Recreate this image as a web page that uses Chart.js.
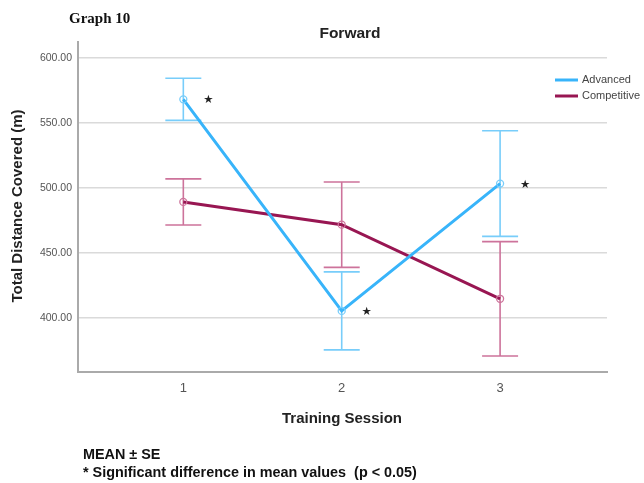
<!DOCTYPE html>
<html>
<head>
<meta charset="utf-8">
<script src="https://cdn.jsdelivr.net/npm/chart.js@4.4.1/dist/chart.umd.min.js"></script>
<style>
  html, body { margin: 0; padding: 0; background: #ffffff; }
  #wrap { width: 644px; height: 483px; position: relative; }
</style>
</head>
<body>
<div id="wrap"><canvas id="c" width="644" height="483"></canvas></div>
<script>
// Training sessions on the x axis
const sessions = [1, 2, 3];
// Mean total distance covered (m) per group
const advancedMean = [568.2, 405.5, 503.4];
const competitiveMean = [489.3, 471.8, 414.8];
// Standard error of the mean per group
const advancedSE = [16.2, 30.0, 40.6];
const competitiveSE = [17.7, 32.8, 44.0];
// Sessions where the group difference is significant (marked with a star)
const significant = [true, true, true];
// Y axis tick values
const yTicks = [400, 450, 500, 550, 600];

const blue = 'rgb(56,180,250)';
const blueBar = 'rgb(120,205,250)';
const maroon = 'rgb(152,22,82)';
const maroonBar = 'rgb(205,115,155)';

const toPoints = (vals) => sessions.map((s, i) => ({ x: s, y: vals[i] }));

// Error bars (mean ± SE) with caps
const errorBars = {
  id: 'errorBars',
  beforeDatasetsDraw(chart) {
    const { ctx, scales: { x, y } } = chart;
    chart.data.datasets.forEach((ds) => {
      ctx.save();
      ctx.strokeStyle = ds.barColor;
      ctx.lineWidth = 1.6;
      ds.data.forEach((p, i) => {
        const px = x.getPixelForValue(p.x);
        const hi = y.getPixelForValue(p.y + ds.se[i]);
        const lo = y.getPixelForValue(p.y - ds.se[i]);
        ctx.beginPath();
        ctx.moveTo(px, hi); ctx.lineTo(px, lo);
        ctx.moveTo(px - 18, hi); ctx.lineTo(px + 18, hi);
        ctx.moveTo(px - 18, lo); ctx.lineTo(px + 18, lo);
        ctx.stroke();
      });
      ctx.restore();
    });
  }
};

// Titles, legend, significance stars and footnotes
const annotations = {
  id: 'annotations',
  afterDraw(chart) {
    const { ctx, scales: { x, y } } = chart;
    ctx.save();
    ctx.fillStyle = '#111';
    ctx.textBaseline = 'middle';

    ctx.font = 'bold 15px "Liberation Serif", "DejaVu Serif", serif';
    ctx.textAlign = 'left';
    ctx.fillText('Graph 10', 69, 19);

    ctx.fillStyle = '#222';
    ctx.font = 'bold 15.5px "Liberation Sans", Arial, sans-serif';
    ctx.textAlign = 'center';
    ctx.fillText('Forward', 350, 34);

    ctx.font = 'bold 15px "Liberation Sans", Arial, sans-serif';
    ctx.fillText('Training Session', 342, 419);

    ctx.save();
    ctx.translate(18, 206);
    ctx.rotate(-Math.PI / 2);
    ctx.fillText('Total Distance Covered (m)', 0, 0);
    ctx.restore();

    // significance stars beside the Advanced means
    ctx.font = '11.5px "DejaVu Sans", sans-serif';
    ctx.fillStyle = '#222';
    sessions.forEach((s, i) => {
      if (!significant[i]) return;
      const px = x.getPixelForValue(s) + 25;
      const py = y.getPixelForValue(advancedMean[i]) + 1;
      ctx.fillText('★', px, py);
    });

    // legend
    ctx.textAlign = 'left';
    ctx.font = '11px "Liberation Sans", Arial, sans-serif';
    chart.data.datasets.forEach((ds, i) => {
      const ly = 80 + i * 16;
      ctx.strokeStyle = ds.borderColor;
      ctx.lineWidth = 3;
      ctx.beginPath();
      ctx.moveTo(555, ly); ctx.lineTo(578, ly);
      ctx.stroke();
      ctx.fillStyle = '#444';
      ctx.fillText(ds.label, 582, ly);
    });

    // footnotes
    ctx.fillStyle = '#111';
    ctx.font = 'bold 14.4px "Liberation Sans", Arial, sans-serif';
    ctx.fillText('MEAN ± SE', 83, 455);
    ctx.fillText('* Significant difference in mean values  (p < 0.05)', 83, 473);
    ctx.restore();
  }
};

new Chart(document.getElementById('c'), {
  type: 'line',
  data: {
    datasets: [
      {
        label: 'Advanced',
        data: toPoints(advancedMean),
        se: advancedSE,
        barColor: blueBar,
        borderColor: blue,
        borderWidth: 3,
        pointRadius: 3.5,
        pointBorderWidth: 1.3,
        pointBackgroundColor: 'rgba(255,255,255,0)',
        pointBorderColor: blueBar,
        tension: 0
      },
      {
        label: 'Competitive',
        data: toPoints(competitiveMean),
        se: competitiveSE,
        barColor: maroonBar,
        borderColor: maroon,
        borderWidth: 3,
        pointRadius: 3.5,
        pointBorderWidth: 1.3,
        pointBackgroundColor: 'rgba(255,255,255,0)',
        pointBorderColor: maroonBar,
        tension: 0
      }
    ]
  },
  options: {
    responsive: false,
    animation: false,
    events: [],
    layout: { padding: { top: 42, right: 37, left: 0, bottom: 0 } },
    plugins: { legend: { display: false }, title: { display: false }, tooltip: { enabled: false } },
    scales: {
      x: {
        type: 'linear',
        min: 0.335,
        max: 3.675,
        afterFit(s) { s.height = 111; },
        afterBuildTicks(s) { s.ticks = sessions.map(v => ({ value: v })); },
        grid: { display: false, drawTicks: false },
        border: { display: true, color: 'rgb(170,170,170)', width: 2 },
        ticks: {
          padding: 9,
          color: '#555',
          font: { family: '"Liberation Sans", Arial, sans-serif', size: 13 },
          callback: (v) => String(v)
        }
      },
      y: {
        min: 358.5,
        max: 612.3,
        afterFit(s) { s.width = 78; },
        afterBuildTicks(s) { s.ticks = yTicks.map(v => ({ value: v })); },
        grid: { color: 'rgb(218,218,218)', lineWidth: 1.5, drawTicks: false },
        border: { display: true, color: 'rgb(170,170,170)', width: 2 },
        ticks: {
          padding: 6,
          color: '#555',
          font: { family: '"Liberation Sans", Arial, sans-serif', size: 10.5 },
          callback: (v) => Number(v).toFixed(2)
        }
      }
    }
  },
  plugins: [errorBars, annotations]
});
</script>
</body>
</html>
